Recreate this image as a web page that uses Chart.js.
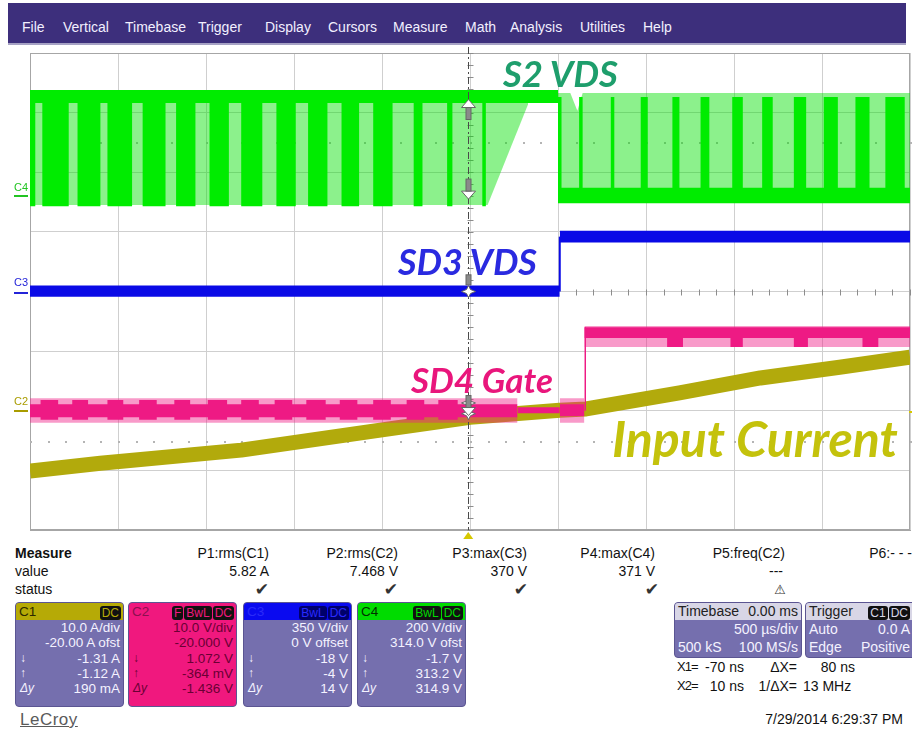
<!DOCTYPE html>
<html>
<head>
<meta charset="utf-8">
<script src="https://cdn.jsdelivr.net/npm/chart.js@4.4.1/dist/chart.umd.min.js"></script>
<style>
  body { margin: 0; width: 912px; height: 731px; background: #fff; position: relative; overflow: hidden;
         font-family: "Liberation Sans", Arial, sans-serif; color: #111; }
  .menu { position: absolute; left: 8px; top: 3px; width: 898px; height: 40px; background: #3d2f7c; border-bottom: 2px solid #a6a2c4; }
  .menu span { position: absolute; top: 16px; color: #f2f0ff; font-size: 14px; line-height: 16px; }
  #scope { position: absolute; left: 0; top: 45px; width: 912px; height: 500px; }
  .tag { position: absolute; font-family: Lato, "Open Sans", sans-serif; font-weight: bold; font-style: italic;
         white-space: nowrap; line-height: 1; }
  .ch { position: absolute; left: 14px; font-size: 11px; line-height: 12px; }
  .m { position: absolute; font-size: 14px; line-height: 16px; white-space: nowrap; }
  .ok { position: absolute; font-family: "DejaVu Sans", sans-serif; font-size: 17px; line-height: 18px; color: #333; }
  .box { position: absolute; top: 602px; height: 105px; width: 109px; background: #756fae; border: 1px solid #5b5592;
         border-radius: 4px; box-sizing: border-box; overflow: hidden; color: #f4f2ff; font-size: 13.5px; }
  .box .hd { height: 17px; line-height: 17px; padding: 0 3px; position: relative; }
  .box .hd .bds { position: absolute; right: 2px; top: 1px; }
  .bd { display: inline-block; background: #111; border-radius: 3px; padding: 0 2px; height: 14px; line-height: 14px;
        font-size: 12px; margin-left: 1px; font-weight: normal; }
  .box .r { height: 15.3px; line-height: 15.3px; text-align: right; padding-right: 3px; position: relative; white-space: nowrap; }
  .box .r i { position: absolute; left: 4px; font-size: 12px; }
  .tb { position: absolute; top: 602px; height: 56px; background: #756fae; border: 1px solid #5b5592; border-radius: 4px;
        box-sizing: border-box; overflow: hidden; color: #f4f2ff; font-size: 14px; }
  .tb .hd { height: 17px; line-height: 17px; background: #d8d6e6; color: #222; padding: 0 3px; position: relative; white-space: nowrap; }
  .tb .r { height: 18px; line-height: 18px; padding: 0 3px; position: relative; white-space: nowrap; }
  .tb .rt { position: absolute; right: 3px; }
  .xl { letter-spacing: -1px; font-size: 13px; }
</style>
</head>
<body>
<div class="menu">
  <span style="left:14px">File</span><span style="left:55px">Vertical</span><span style="left:117px">Timebase</span>
  <span style="left:190px">Trigger</span><span style="left:257px">Display</span><span style="left:320px">Cursors</span>
  <span style="left:385px">Measure</span><span style="left:457px">Math</span><span style="left:502px">Analysis</span>
  <span style="left:572px">Utilities</span><span style="left:635px">Help</span>
</div>

<div id="scope"><canvas id="scope__canvas"></canvas></div>

<div class="ch" style="top:181px;color:#22c422">C4</div>
<div class="ch" style="top:276px;color:#2424d8">C3</div>
<div class="ch" style="top:395px;color:#a99c00">C2</div>

<div class="tag" style="left:503px;top:55px;font-size:36.5px;color:#1e9e6c">S2 VDS</div>
<div class="tag" style="left:398px;top:243px;font-size:36px;color:#2a2ae0">SD3 VDS</div>
<div class="tag" style="left:411px;top:362px;font-size:35px;color:#e9167c">SD4 Gate</div>
<div class="tag" style="left:612px;top:413px;font-size:50px;color:#c4c20c">Input Current</div>

<!-- measurement table -->
<div class="m" style="left:15px;top:545px;font-weight:bold">Measure</div>
<div class="m" style="left:15px;top:563px">value</div>
<div class="m" style="left:15px;top:581px">status</div>
<div class="m" style="right:643px;top:545px">P1:rms(C1)</div>
<div class="m" style="right:514px;top:545px">P2:rms(C2)</div>
<div class="m" style="right:385px;top:545px">P3:max(C3)</div>
<div class="m" style="right:257px;top:545px">P4:max(C4)</div>
<div class="m" style="right:127px;top:545px">P5:freq(C2)</div>
<div class="m" style="right:0px;top:545px">P6:- - -</div>
<div class="m" style="right:643px;top:563px">5.82 A</div>
<div class="m" style="right:514px;top:563px">7.468 V</div>
<div class="m" style="right:385px;top:563px">370 V</div>
<div class="m" style="right:257px;top:563px">371 V</div>
<div class="m" style="right:129px;top:563px">---</div>
<div class="ok" style="right:643px;top:580px">✔</div>
<div class="ok" style="right:514px;top:580px">✔</div>
<div class="ok" style="right:384px;top:580px">✔</div>
<div class="ok" style="right:253px;top:580px">✔</div>
<div class="ok" style="right:126px;top:581px;font-size:13px">⚠</div>

<!-- channel boxes -->
<div class="box" style="left:15px">
  <div class="hd" style="background:#b6aa06;color:#2c2800">C1<span class="bds"><b class="bd" style="color:#b6aa06">DC</b></span></div>
  <div class="r">10.0 A/div</div>
  <div class="r">-20.00 A ofst</div>
  <div class="r"><i>↓</i>-1.31 A</div>
  <div class="r"><i>↑</i>-1.12 A</div>
  <div class="r"><i>Δy</i>190 mA</div>
</div>
<div class="box" style="left:128px;background:#f0187e;color:#6a0034">
  <div class="hd" style="color:#8a1050">C2<span class="bds"><b class="bd" style="color:#f0187e">F</b><b class="bd" style="color:#f0187e">BwL</b><b class="bd" style="color:#f0187e">DC</b></span></div>
  <div class="r">10.0 V/div</div>
  <div class="r">-20.000 V</div>
  <div class="r"><i>↓</i>1.072 V</div>
  <div class="r"><i>↑</i>-364 mV</div>
  <div class="r"><i>Δy</i>-1.436 V</div>
</div>
<div class="box" style="left:243px">
  <div class="hd" style="background:#0a0af0;color:#2a2af8">C3<span class="bds"><b class="bd" style="background:#00006a;color:#2a2aff">BwL</b><b class="bd" style="background:#00006a;color:#2a2aff">DC</b></span></div>
  <div class="r">350 V/div</div>
  <div class="r">0 V offset</div>
  <div class="r"><i>↓</i>-18 V</div>
  <div class="r"><i>↑</i>-4 V</div>
  <div class="r"><i>Δy</i>14 V</div>
</div>
<div class="box" style="left:357px">
  <div class="hd" style="background:#00dc00;color:#003000">C4<span class="bds"><b class="bd" style="color:#00dc00">BwL</b><b class="bd" style="color:#00dc00">DC</b></span></div>
  <div class="r">200 V/div</div>
  <div class="r">314.0 V ofst</div>
  <div class="r"><i>↓</i>-1.7 V</div>
  <div class="r"><i>↑</i>313.2 V</div>
  <div class="r"><i>Δy</i>314.9 V</div>
</div>

<!-- timebase / trigger -->
<div class="tb" style="left:674px;width:128px">
  <div class="hd">Timebase<span class="rt">0.00 ms</span></div>
  <div class="r"><span class="rt">500 µs/div</span></div>
  <div class="r">500 kS<span class="rt">100 MS/s</span></div>
</div>
<div class="tb" style="left:805px;width:112px">
  <div class="hd">Trigger<span class="rt" style="right:6px;top:1px"><b class="bd" style="color:#d8d6e6">C1</b><b class="bd" style="color:#d8d6e6">DC</b></span></div>
  <div class="r">Auto<span class="rt" style="right:6px">0.0 A</span></div>
  <div class="r">Edge<span class="rt" style="right:6px">Positive</span></div>
</div>
<div class="m xl" style="left:677px;top:659px">X1=</div>
<div class="m" style="right:168px;top:659px">-70 ns</div>
<div class="m" style="right:115px;top:659px">ΔX=</div>
<div class="m" style="right:57px;top:659px">80 ns</div>
<div class="m xl" style="left:677px;top:678px">X2=</div>
<div class="m" style="right:168px;top:678px">10 ns</div>
<div class="m" style="right:115px;top:678px">1/ΔX=</div>
<div class="m" style="left:803px;top:678px">13 MHz</div>

<div class="m" style="left:20px;top:710px;font-size:17px;line-height:20px;color:#5a5a5a;text-decoration:underline;letter-spacing:0.5px">LeCroy</div>
<div class="m" style="right:9px;top:711px">7/29/2014 6:29:37 PM</div>

<script>
// horizontal: time in ms (500 µs/div, 10 div); vertical: screen divisions (8 div)
const TIME_MIN = -2.5;
const TIME_MAX = 2.5;
const DIV_MIN = -4;
const DIV_MAX = 4;

// C4 – S2 VDS. Light = sparse switching envelope, dark = dense switching packets
const c4LightLeftTop = [[-2.5, 3.16], [0.33, 3.16]];
const c4LightLeftBottom = [[-2.5, 1.45], [0.10, 1.45], [0.33, 3.14]];
const c4LightRightTop = [[0.50, 3.33], [0.57, 3.33], [0.61, 3.03], [0.64, 3.33], [2.5, 3.33]];
const c4LightRightBottom = [[0.50, 1.70], [2.5, 1.70]];
const c4DenseLeft = [[-2.5, -2.47], [-2.43, -2.28], [-2.23, -2.10], [-2.06, -1.92], [-1.86, -1.73],
  [-1.67, -1.56], [-1.48, -1.37], [-1.30, -1.18], [-1.10, -0.99], [-0.92, -0.81], [-0.73, -0.63],
  [-0.55, -0.44], [-0.32, -0.27], [-0.13, -0.10], [0.07, 0.09]];
const c4DenseRight = [[0.50, 0.52], [0.62, 0.64], [0.80, 0.82], [0.97, 1.01], [1.15, 1.19], [1.31, 1.36],
  [1.49, 1.55], [1.66, 1.72], [1.84, 1.91], [2.01, 2.09], [2.19, 2.27], [2.36, 2.47]];
const c4Levels = { top: 3.38, packetLow: 1.43, idle: 3.16, rightPacketTop: 3.26, rightIdle: 1.74, rightBase: 1.48 };

// C3 – SD3 VDS, low before the step, high after it
const c3LowTop = [[-2.5, 0.10], [0.51, 0.10]];
const c3LowBottom = [[-2.5, -0.09], [0.51, -0.09]];
const c3Edge = [[0.51, 0.0], [0.51, 0.92]];
const c3HighTop = [[0.51, 1.02], [2.5, 1.02]];
const c3HighBottom = [[0.51, 0.82], [2.5, 0.82]];

// C2 – SD4 Gate
const c2LowOuter = { from: -2.5, to: 0.27, top: -1.79, bottom: -2.20 };
const c2LowCore = { top: -1.89, bottom: -2.11, blockTop: -1.82, blockBottom: -2.15 };
const c2LowBlocks = [[-2.44, -2.34], [-2.26, -2.17], [-2.06, -1.97], [-1.88, -1.78], [-1.68, -1.59],
  [-1.49, -1.38], [-1.30, -1.20], [-1.11, -1.01], [-0.93, -0.82], [-0.74, -0.64], [-0.55, -0.45],
  [-0.36, -0.26], [-0.18, -0.07]];
const c2Idle = [[0.27, -1.94], [0.51, -1.94]];
const c2IdleBottom = [[0.27, -2.04], [0.51, -2.04]];
const c2BurstTop = [[0.51, -1.79], [0.65, -1.79]];
const c2BurstBottom = [[0.51, -2.20], [0.65, -2.20]];
const c2BurstCoreTop = [[0.51, -1.89], [0.65, -1.89]];
const c2BurstCoreBottom = [[0.51, -2.09], [0.65, -2.09]];
const c2Edge = [[0.655, -2.0], [0.655, -0.6]];
const c2HighOuter = { from: 0.65, to: 2.5, top: -0.58, bottom: -0.93 };
const c2HighCore = { top: -0.60, bottom: -0.78, blockBottom: -0.93 };
const c2HighBlocks = [[1.12, 1.21], [1.48, 1.55], [1.84, 1.92], [2.23, 2.32]];

// C1 – input current, centre of the ripple band
const c1Center = [[-2.5, -3.01], [-2.1, -2.88], [-1.3, -2.66], [-0.5, -2.32], [0.0, -2.11], [0.51, -1.99],
  [0.66, -1.97], [1.19, -1.70], [1.65, -1.45], [2.10, -1.27], [2.5, -1.10]];

// screen furniture
const CURSOR_T = -0.01;
const DOT_LEVELS = [2.5, -2.5];
const TRIGGER_LEVEL = -2.0;

const GREEN = '#00ec00';
const GREEN_LIGHT = 'rgba(0, 225, 0, 0.45)';
const BLUE = '#0a0ae6';
const PINK = '#ee1a84';
const PINK_LIGHT = 'rgba(240, 30, 135, 0.45)';
const OLIVE = '#b2aa0c';

const pts = (arr) => arr.map(([x, y]) => ({ x, y }));
const flat = (from, to, v) => [[from, v], [to, v]];

function spanSteps(from, to, spans, inside, outside) {
  const out = [[from, outside]];
  spans.forEach(([a, b]) => out.push([a, outside], [a, inside], [b, inside], [b, outside]));
  out.push([to, outside]);
  return out;
}

const datasets = [];

function band(lower, upper, color) {
  datasets.push({ data: pts(lower), borderColor: 'rgba(0,0,0,0)', borderWidth: 0, backgroundColor: color, fill: false });
  datasets.push({ data: pts(upper), borderColor: 'rgba(0,0,0,0)', borderWidth: 0, backgroundColor: color, fill: '-1' });
}

function trace(points, color, width) {
  datasets.push({ data: pts(points), borderColor: color, borderWidth: width, fill: false,
    borderCapStyle: 'butt', borderJoinStyle: 'round' });
}

function buildDatasets() {
  // C1 underneath everything
  trace(c1Center, OLIVE, 15);

  // C2
  band(flat(c2LowOuter.from, c2LowOuter.to, c2LowOuter.bottom), flat(c2LowOuter.from, c2LowOuter.to, c2LowOuter.top), PINK_LIGHT);
  band(spanSteps(c2LowOuter.from, c2LowOuter.to, c2LowBlocks, c2LowCore.blockBottom, c2LowCore.bottom),
    spanSteps(c2LowOuter.from, c2LowOuter.to, c2LowBlocks, c2LowCore.blockTop, c2LowCore.top), PINK);
  band(c2IdleBottom, c2Idle, PINK);
  band(c2BurstBottom, c2BurstTop, PINK_LIGHT);
  band(c2BurstCoreBottom, c2BurstCoreTop, PINK);
  trace(c2Edge, PINK, 1.5);
  band(flat(c2HighOuter.from, c2HighOuter.to, c2HighOuter.bottom), flat(c2HighOuter.from, c2HighOuter.to, c2HighOuter.top), PINK_LIGHT);
  band(spanSteps(c2HighOuter.from, c2HighOuter.to, c2HighBlocks, c2HighCore.blockBottom, c2HighCore.bottom),
    flat(c2HighOuter.from, c2HighOuter.to, c2HighCore.top), PINK);

  // C3
  band(c3LowBottom, c3LowTop, BLUE);
  trace(c3Edge, BLUE, 2);
  band(c3HighBottom, c3HighTop, BLUE);

  // C4
  band(c4LightLeftBottom, c4LightLeftTop, GREEN_LIGHT);
  band(c4LightRightBottom, c4LightRightTop, GREEN_LIGHT);
  band(spanSteps(-2.5, 0.50, c4DenseLeft, c4Levels.packetLow, c4Levels.idle), flat(-2.5, 0.50, c4Levels.top), GREEN);
  band(flat(0.50, 2.5, c4Levels.rightBase), spanSteps(0.50, 2.5, c4DenseRight, c4Levels.rightPacketTop, c4Levels.rightIdle), GREEN);

  // later datasets are painted on top
  datasets.forEach((d, i) => { d.order = -i; d.pointRadius = 0; d.tension = 0; });
  return datasets;
}

function drawArrow(ctx, x, y, dir) {
  // white head with grey outline and a short grey shaft
  ctx.beginPath();
  ctx.moveTo(x, y);
  ctx.lineTo(x - 7, y + 8 * dir);
  ctx.lineTo(x + 7, y + 8 * dir);
  ctx.closePath();
  ctx.fillStyle = '#fff';
  ctx.fill();
  ctx.strokeStyle = '#666';
  ctx.lineWidth = 1;
  ctx.stroke();
  ctx.fillStyle = '#8a8a8a';
  ctx.fillRect(x - 2.5, dir > 0 ? y + 8 : y - 20, 5, 12);
  ctx.strokeRect(x - 2.5, dir > 0 ? y + 8 : y - 20, 5, 12);
}

function drawStar(ctx, x, y) {
  ctx.beginPath();
  ctx.moveTo(x, y - 6);
  ctx.lineTo(x + 2, y - 2);
  ctx.lineTo(x + 7, y);
  ctx.lineTo(x + 2, y + 2);
  ctx.lineTo(x, y + 6);
  ctx.lineTo(x - 2, y + 2);
  ctx.lineTo(x - 7, y);
  ctx.lineTo(x - 2, y - 2);
  ctx.closePath();
  ctx.fillStyle = '#fff';
  ctx.fill();
  ctx.strokeStyle = '#666';
  ctx.lineWidth = 1;
  ctx.stroke();
}

const scopeFurniture = {
  id: 'scopeFurniture',
  beforeDatasetsDraw(chart) {
    const { ctx, chartArea: a, scales: { x, y } } = chart;
    ctx.save();
    ctx.strokeStyle = '#a6a6a6';
    ctx.lineWidth = 1;
    ctx.strokeRect(a.left + 0.5, a.top + 0.5, a.right - a.left - 1, a.bottom - a.top - 1);

    // minor ticks on the centre cross
    const cx = Math.round(x.getPixelForValue(0)) + 0.5;
    const cy = Math.round(y.getPixelForValue(0)) + 0.5;
    ctx.strokeStyle = '#8c8c8c';
    ctx.beginPath();
    for (let i = 0; i <= 50; i++) {
      const px = Math.round(x.getPixelForValue(TIME_MIN + i * 0.1)) + 0.5;
      ctx.moveTo(px, cy - 3);
      ctx.lineTo(px, cy + 3);
    }
    for (let i = 0; i <= 40; i++) {
      const py = Math.round(y.getPixelForValue(DIV_MIN + i * 0.2)) + 0.5;
      ctx.moveTo(cx - 3, py);
      ctx.lineTo(cx + 3, py);
    }
    ctx.stroke();

    // dotted level lines
    ctx.fillStyle = '#b4b4b4';
    DOT_LEVELS.forEach((v) => {
      const py = Math.round(y.getPixelForValue(v));
      for (let i = 0; i <= 50; i++) {
        ctx.fillRect(Math.round(x.getPixelForValue(TIME_MIN + i * 0.1)), py, 2, 2);
      }
    });
    ctx.restore();
  },
  afterDatasetsDraw(chart) {
    const { ctx, chartArea: a, scales: { x, y } } = chart;
    ctx.save();
    const cx = Math.round(x.getPixelForValue(CURSOR_T)) + 0.5;

    // cursor line
    ctx.strokeStyle = '#4a4a4a';
    ctx.lineWidth = 1;
    ctx.setLineDash([7, 3, 2, 3]);
    ctx.beginPath();
    ctx.moveTo(cx, a.top - 6);
    ctx.lineTo(cx, a.bottom);
    ctx.stroke();
    ctx.setLineDash([]);

    // cursor markers where the line crosses the traces
    drawArrow(ctx, cx, y.getPixelForValue(3.22), 1);
    drawArrow(ctx, cx, y.getPixelForValue(1.55), -1);
    ctx.fillStyle = '#8a8a8a';
    ctx.fillRect(cx - 2.5, y.getPixelForValue(0.28), 5, 10);
    ctx.strokeStyle = '#666';
    ctx.strokeRect(cx - 2.5, y.getPixelForValue(0.28), 5, 10);
    drawStar(ctx, cx, y.getPixelForValue(0.0));
    drawStar(ctx, cx, y.getPixelForValue(-1.87));
    drawStar(ctx, cx, y.getPixelForValue(-2.05));
    drawArrow(ctx, cx, y.getPixelForValue(-2.08), -1);

    // channel ground markers on the left edge
    [[1.62, '#22c422'], [0.0, '#2424d8'], [-1.98, '#a99c00']].forEach(([v, c]) => {
      const py = Math.round(y.getPixelForValue(v));
      ctx.fillStyle = c;
      ctx.fillRect(14, py, 14, 2);
    });

    // trigger time and level markers
    const tx = x.getPixelForValue(CURSOR_T);
    ctx.fillStyle = '#d6c800';
    ctx.beginPath();
    ctx.moveTo(tx, a.bottom + 2);
    ctx.lineTo(tx - 5, a.bottom + 9);
    ctx.lineTo(tx + 5, a.bottom + 9);
    ctx.closePath();
    ctx.fill();
    ctx.fillRect(a.right - 1, Math.round(y.getPixelForValue(TRIGGER_LEVEL)), 4, 2);
    ctx.restore();
  }
};

function makeScopeChart() {
  const ctx = document.getElementById('scope__canvas').getContext('2d');
  return new Chart(ctx, {
    type: 'line',
    data: { datasets: buildDatasets() },
    options: {
      responsive: true,
      maintainAspectRatio: false,
      animation: false,
      devicePixelRatio: 1,
      layout: { padding: { left: 30, right: 2, top: 8, bottom: 15 } },
      plugins: { legend: { display: false }, tooltip: { enabled: false } },
      scales: {
        x: {
          type: 'linear', min: TIME_MIN, max: TIME_MAX,
          ticks: { display: false, stepSize: 0.5 },
          grid: { color: '#cfcfcf', drawTicks: false },
          border: { color: '#a6a6a6' }
        },
        y: {
          type: 'linear', min: DIV_MIN, max: DIV_MAX,
          ticks: { display: false, stepSize: 1 },
          grid: { color: '#cfcfcf', drawTicks: false },
          border: { color: '#a6a6a6' }
        }
      }
    },
    plugins: [scopeFurniture]
  });
}

makeScopeChart();
</script>
</body>
</html>
